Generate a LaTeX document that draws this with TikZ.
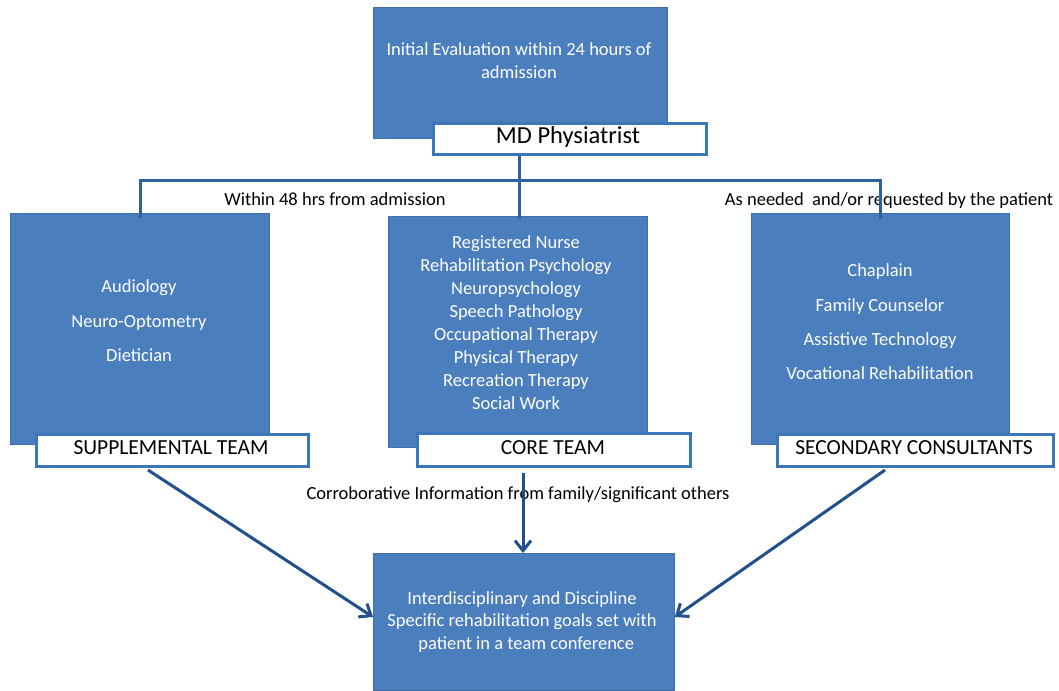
\documentclass[tikz,border=0pt]{standalone}
\usepackage{fontspec}
\setmainfont{Carlito}
\usetikzlibrary{arrows.meta,positioning}
\definecolor{boxblue}{HTML}{4A7EBC}
\definecolor{boxedge}{HTML}{3F6FA8}
\definecolor{lineblue}{HTML}{2D62A0}
\definecolor{arrblue}{HTML}{21508A}
\definecolor{labedge}{HTML}{3A76B8}
\tikzset{
  bluebox/.style={draw=boxedge, line width=0.8pt, fill=boxblue, anchor=north west, inner sep=0pt},
  labbox/.style={draw=labedge, line width=2.6pt, fill=white, anchor=north west, inner sep=0pt},
  wtext/.style={text=white, align=center, font=\fontsize{18.5}{23}\selectfont},
  labtext/.style={text=black, font=\fontsize{21.5}{24}\selectfont},
  btext/.style={text=black, font=\fontsize{18.5}{20}\selectfont},
  conn/.style={draw=lineblue, line width=3pt},
  arr/.style={draw=arrblue, line width=3pt, -{Straight Barb[length=10pt,width=16pt,line width=3pt]}}
}
\begin{document}
\begin{tikzpicture}[x=1pt,y=-1pt]
\useasboundingbox[fill=white] (0,0) rectangle (1059,690);
% top
\node[bluebox, minimum width=294pt, minimum height=131pt] (top) at (373,7) {};
\node[wtext] (toptxt) at (519,61) {Initial Evaluation within 24 hours of\\admission};
\node[labbox, minimum width=273pt, minimum height=31pt] (md) at (432,122) {};
\node[labtext, font=\fontsize{24.5}{26}\selectfont] (mdtxt) at (568,137) {MD Physiatrist};
% supplemental
\node[bluebox, minimum width=259pt, minimum height=231pt] (supp) at (10,213) {};
\node[wtext, font=\fontsize{18.5}{34.5}\selectfont] (supptxt) at (139,321) {Audiology\\Neuro-Optometry\\Dietician};
\node[labbox, minimum width=272pt, minimum height=32pt] (supplab) at (35,433) {};
\node[labtext] (supplabtxt) at (171,448) {SUPPLEMENTAL TEAM};
% core
\node[bluebox, minimum width=259pt, minimum height=231pt] (core) at (388,216) {};
\node[wtext] (coretxt) at (516,323) {Registered Nurse\\Rehabilitation Psychology\\Neuropsychology\\Speech Pathology\\Occupational Therapy\\Physical Therapy\\Recreation Therapy\\Social Work};
\node[labbox, minimum width=273pt, minimum height=33pt] (corelab) at (416,432) {};
\node[labtext] (corelabtxt) at (553,448) {CORE TEAM};
% secondary
\node[bluebox, minimum width=258pt, minimum height=231pt] (sec) at (751,213) {};
\node[wtext, font=\fontsize{18.5}{34.3}\selectfont] (sectxt) at (880,322) {Chaplain\\Family Counselor\\Assistive Technology\\Vocational Rehabilitation};
\node[labbox, minimum width=276pt, minimum height=32pt] (seclab) at (776,433) {};
\node[labtext] (seclabtxt) at (914,448) {SECONDARY CONSULTANTS};
% bottom
\node[bluebox, minimum width=301pt, minimum height=137pt] (goal) at (373,553) {};
\node[wtext, font=\fontsize{18.5}{22.5}\selectfont] (goaltxt) at (522,622) {Interdisciplinary and Discipline\\Specific rehabilitation goals set with\\\ \ patient in a team conference};
% labels
\node[btext] (l48) at (335,199) {Within 48 hrs from admission};
\node[btext] (lneed) at (889,201) {As needed\ \ and/or requested by the patient};
\node[btext] (lcorr) at (518,495) {Corroborative\ Information\ from\ family/significant\ others};
% connectors
\coordinate (j) at (519,180);
\coordinate (jl) at (140,180);
\coordinate (jr) at (880,180);
\draw[conn] (md.south -| j) -- ([yshift=-3pt]core.north -| j);
\draw[conn] ([yshift=-5pt]supp.north -| jl) -- (jl) -- (jr) -- ([yshift=-6pt]sec.north -| jr);
\coordinate (la) at (148,470);
\coordinate (ca) at (523,473);
\coordinate (ra) at (885,470);
\draw[arr] (la) -- (goal.west |- 0,617);
\draw[arr] (ca) -- (goal.north -| ca);
\draw[arr] (ra) -- (goal.east |- 0,617);
\end{tikzpicture}
\end{document}
